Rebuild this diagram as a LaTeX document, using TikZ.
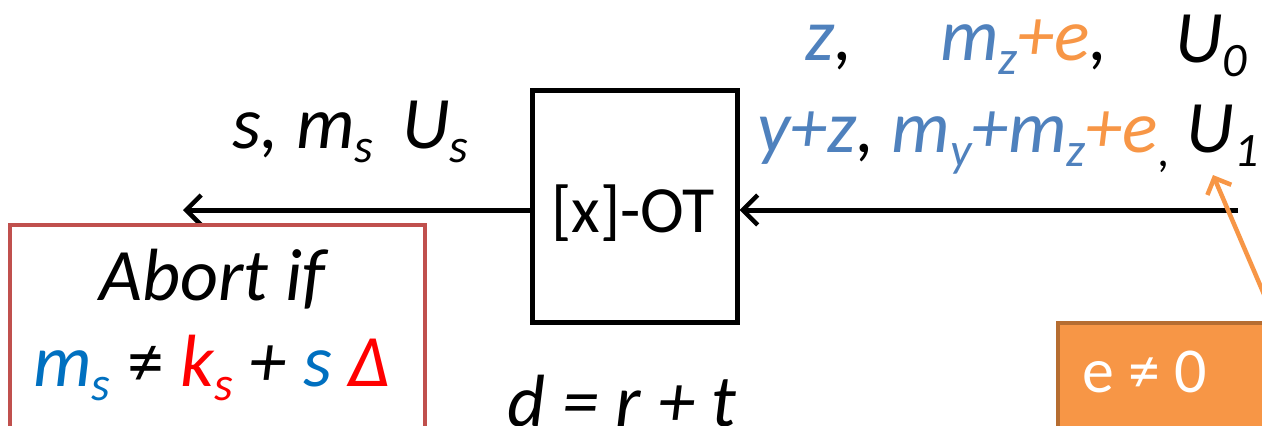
\documentclass[tikz,border=0pt]{standalone}
\usepackage{fontspec}
\setmainfont{Carlito}
\usetikzlibrary{arrows.meta}
\definecolor{bluea}{HTML}{4F81BD}
\definecolor{blueb}{HTML}{0070C0}
\definecolor{redt}{HTML}{FF0000}
\definecolor{orangea}{HTML}{F79646}
\definecolor{redbox}{HTML}{C0504D}
\definecolor{orangeb}{HTML}{B66D31}
\newcommand\sbs[1]{\raisebox{-0.2em}{\fontsize{48}{48}\selectfont #1}}
\newcommand\neqs{{\upshape ≠}}
\tikzset{
  big/.style={font=\fontsize{74}{88}\selectfont\itshape, inner sep=0pt},
  lbl/.style={big, anchor=base west},
  flow/.style={line width=5pt, -{Straight Barb[length=15pt,width=30pt,line width=4.5pt]}},
}
\begin{document}
\begin{tikzpicture}[x=1pt,y=-1pt]
\useasboundingbox (0,0) rectangle (1262,426);
% OT box
\node[draw, line width=5pt, minimum width=205pt, minimum height=232pt, inner sep=0pt] (ot) at (634.5,206) {};
\node[inner sep=0pt, anchor=base, font=\fontsize{66}{78}\selectfont] (otl) at (633,232) {[x]-OT};
% arrows
\coordinate (lend) at (183,210);
\coordinate (rstart) at (1238,210);
\draw[flow] (ot.west |- lend) -- (lend);
\draw[flow] (rstart) -- (ot.east |- rstart);
% left label
\node[lbl] (sl) at (232,148) {s, m\sbs{s} \,U\sbs{s}};
% abort box
\draw[redbox, line width=4.5pt] (10,450) -- (10,225) -- (425,225) -- (425,450);
\node[big, anchor=base] (ab1) at (212,300) {Abort if};
\node[big, anchor=base] (ab2) at (212,386) {\textcolor{blueb}{m\sbs{s}} \neqs{} \textcolor{redt}{k\sbs{s}} + \textcolor{blueb}{s} \textcolor{redt}{Δ}};
% d = r + t
\node[big, anchor=base] (dl) at (622,426) {d = r + t};
% top right
\node[lbl, bluea] (z1) at (805,60) {z\textcolor{black}{,}};
\node[lbl, bluea] (z2) at (940,60) {m\sbs{z}\textcolor{orangea}{+e}\textcolor{black}{,}};
\node[lbl] (z3) at (1175,62) {U\sbs{0}};
\node[lbl, bluea] (y1) at (757,152) {y+z\textcolor{black}{,} m\sbs{y}+m\sbs{z}\textcolor{orangea}{+e}\textcolor{black}{\sbs{,}} \textcolor{black}{U\sbs{1}}};
% orange box
\draw[orangeb, fill=orangea, line width=3.5pt] (1058,460) -- (1058,323) -- (1280,323) -- (1280,460);
\node[inner sep=0pt, anchor=base west, white, font=\fontsize{64}{76}\selectfont] (eb) at (1082,392) {e ≠ 0};
\coordinate (otail) at (1275,320);
\coordinate (ohead) at (1213,175);
\draw[orangea, line width=4.5pt, -{Straight Barb[length=13pt,width=26pt,line width=4.5pt]}] (otail) -- (ohead);
\end{tikzpicture}
\end{document}
